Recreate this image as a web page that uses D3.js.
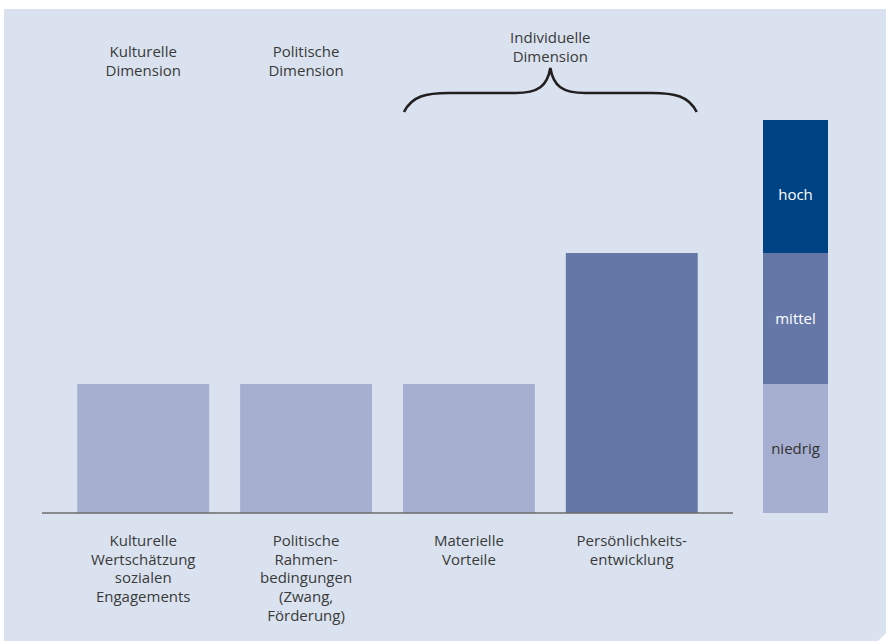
<!DOCTYPE html>
<html>
<head>
<meta charset="utf-8">
<script src="https://cdn.jsdelivr.net/npm/d3@7"></script>
<style>
  html, body { margin: 0; padding: 0; background: #fff; }
  svg text { font-family: "Open Sans", "Noto Sans", sans-serif; }
</style>
</head>
<body>
<svg id="chart" width="886" height="641"></svg>
<script>
// Kategorien (Zeilenumbrüche als Array)
const categories = [
  ['Kulturelle', 'Wertschätzung', 'sozialen', 'Engagements'],
  ['Politische', 'Rahmen-', 'bedingungen', '(Zwang,', 'Förderung)'],
  ['Materielle', 'Vorteile'],
  ['Persönlichkeits-', 'entwicklung']
]
const values = [1, 1, 1, 2]  // Ausprägung: 1 = niedrig, 2 = mittel, 3 = hoch
const levels = ['niedrig', 'mittel', 'hoch']
const levelColors = ['#a6afd0', '#6577a6', '#004385']
const levelTextColors = ['#333', '#fff', '#fff']
const dimensions = [
  { label: ['Kulturelle', 'Dimension'], from: 0, to: 0 },
  { label: ['Politische', 'Dimension'], from: 1, to: 1 },
  { label: ['Individuelle', 'Dimension'], from: 2, to: 3, brace: true }
]

const svg = d3.select('#chart')
const W = 886, H = 641

// Hintergrund mit abgeschrägter Ecke unten rechts
svg.append('path')
  .attr('d', `M4,9 H${W} V${H - 8} L${W - 8},${H} H4 Z`)
  .attr('fill', '#d9e2ee')

const keys = categories.map((c, i) => i)
const x = d3.scaleBand()
  .domain(keys)
  .range([61, 714])
  .paddingInner(0.19)
  .paddingOuter(0.1)

// Stufen sind im Original nicht ganz gleich hoch
const y = d3.scaleLinear()
  .domain([0, 1, 2, 3])
  .range([513, 384, 253, 120])

// Balken
svg.append('g').selectAll('rect')
  .data(values)
  .enter()
  .append('rect')
  .attr('x', (d, i) => x(i))
  .attr('width', x.bandwidth())
  .attr('y', d => y(d))
  .attr('height', d => y(0) - y(d))
  .attr('fill', d => levelColors[d - 1])

// Grundlinie
svg.append('line')
  .attr('x1', 42).attr('x2', 733)
  .attr('y1', y(0)).attr('y2', y(0))
  .attr('stroke', '#6b6b6b')
  .attr('stroke-width', 1.6)

// Kategorie-Beschriftungen
const catLabels = svg.append('g')
categories.forEach((lines, i) => {
  const t = catLabels.append('text')
    .attr('text-anchor', 'middle')
    .attr('font-size', 15)
    .attr('fill', '#3a3a3a')
  lines.forEach((l, j) => {
    t.append('tspan')
      .attr('x', x(i) + x.bandwidth() / 2)
      .attr('y', 546 + j * 18.7)
      .text(l)
  })
})

// Dimensionen oben
dimensions.forEach(dim => {
  const x0 = x(dim.from)
  const x1 = x(dim.to) + x.bandwidth()
  const cx = (x0 + x1) / 2
  const t = svg.append('text')
    .attr('text-anchor', 'middle')
    .attr('font-size', 15)
    .attr('fill', '#3a3a3a')
  dim.label.forEach((l, j) => {
    t.append('tspan')
      .attr('x', cx)
      .attr('y', dim.brace ? 43 + j * 18.7 : 57 + j * 19)
      .text(l)
  })
  if (dim.brace) {
    const xl = x0 + 1, xr = x1 - 1
    const yb = 112, yf = 93, yt = 68
    const p = d3.path()
    p.moveTo(xl, yb)
    p.bezierCurveTo(xl + 8, yf + 3, xl + 22, yf, xl + 45, yf)
    p.lineTo(cx - 35, yf)
    p.bezierCurveTo(cx - 12, yf, cx - 3, yf - 7, cx, yt)
    p.bezierCurveTo(cx + 3, yf - 7, cx + 12, yf, cx + 35, yf)
    p.lineTo(xr - 45, yf)
    p.bezierCurveTo(xr - 22, yf, xr - 8, yf + 3, xr, yb)
    svg.append('path')
      .attr('d', p.toString())
      .attr('fill', 'none')
      .attr('stroke', '#231f20')
      .attr('stroke-width', 2.6)
  }
})

// Legende rechts
const legX = 763, legW = 65
const labelShift = [0, 0, 8]
const legend = svg.append('g')
levels.forEach((lv, i) => {
  legend.append('rect')
    .attr('x', legX)
    .attr('width', legW)
    .attr('y', y(i + 1))
    .attr('height', y(i) - y(i + 1))
    .attr('fill', levelColors[i])
  legend.append('text')
    .attr('x', legX + legW / 2)
    .attr('y', (y(i) + y(i + 1)) / 2 + labelShift[i])
    .attr('dy', '0.35em')
    .attr('text-anchor', 'middle')
    .attr('font-size', 15)
    .attr('fill', levelTextColors[i])
    .text(lv)
})
</script>
</body>
</html>
